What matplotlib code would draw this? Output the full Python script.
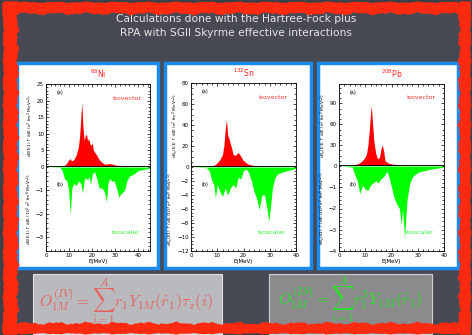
import numpy as np
import matplotlib
matplotlib.use("Agg")
import matplotlib.pyplot as plt
from matplotlib.patches import Rectangle, Polygon

plt.rcParams['mathtext.fontset'] = 'dejavusans'

## data
# 68Ni
ni_e_up = [0, 5, 7, 8, 9, 10, 10.5, 11, 12, 13, 14, 14.5, 15, 15.5, 16, 16.5, 17, 17.5, 18, 18.5,
           19, 19.5, 20, 20.5, 21, 22, 23, 24, 25, 26, 27, 28, 30, 33, 36, 40, 45]
ni_v_up = [0, 0.05, 0.2, 0.5, 1.2, 2.3, 2.5, 1.8, 2.2, 3.5, 6, 9, 14, 19.3, 12, 8, 9.5, 9.8, 8, 8.5,
           7, 6.5, 7.3, 5, 4.5, 3.5, 2.2, 1.5, 1.0, 0.8, 1.0, 1.0, 0.6, 0.4, 0.3, 0.2, 0.1]
ni_e_lo = [0, 6, 7, 8, 9, 9.8, 10.5, 11.2, 12, 13, 14, 15, 15.8, 16.5, 17, 18, 18.7, 19.3, 20, 21,
           22, 23, 24, 25, 25.6, 26.2, 26.8, 27.5, 28.5, 29.5, 30.5, 31.6, 32.3, 33, 34, 35, 36, 38, 40, 45]
ni_v_lo = [0, -0.02, -0.15, -0.5, -0.6, -1.0, -2.03, -0.9, -0.7, -0.8, -0.6, -0.7, -1.1, -0.6, -0.45, -0.55, -0.4, -0.75, -0.3, -0.2,
           -0.5, -0.9, -0.9, -1.0, -1.2, -1.49, -0.7, -0.5, -0.6, -0.6, -0.9, -1.3, -1.15, -1.1, -1.0, -0.6, -0.4, -0.3, -0.15, -0.05]

# 132Sn
sn_e_up = [0, 6, 8, 9, 10, 11, 12, 12.5, 13, 13.5, 14, 14.5, 15, 15.5, 16, 17, 17.5, 18, 18.5, 19,
           20, 21, 22, 24, 26, 30, 35, 40]
sn_v_up = [0, 0.2, 1, 2, 4, 7, 12, 20, 35, 45, 30, 27, 22, 18, 12, 11, 13, 13.5, 12, 10,
           6, 4, 2.5, 1.5, 1, 0.5, 0.3, 0.2]
sn_e_lo = [0, 6, 7, 8, 8.7, 9.3, 10, 11, 12, 13, 14, 15, 16, 17, 18, 19, 20, 21, 22, 23,
           24, 25, 26, 27, 28, 29, 29.6, 30.2, 31, 32, 33, 35, 37, 40]
sn_v_lo = [0, -0.1, -0.6, -2.0, -2.5, -4.4, -2.5, -3.5, -4.2, -3.0, -4.0, -3.0, -2.5, -3.0, -1.5, -1.7, -0.5, -0.3, -0.8, -2.0,
           -3.5, -4.5, -6.1, -4.0, -4.0, -6.0, -7.75, -6.0, -3.0, -1.5, -1.0, -0.7, -0.5, -0.2]

# 208Pb
pb_e_up = [0, 4, 6, 7, 8, 9, 10, 10.5, 11, 11.5, 12, 12.3, 12.8, 13.3, 14, 14.5, 15, 15.5, 16, 16.5,
           17, 17.5, 18, 19, 20, 22, 25, 30, 35, 40]
pb_v_up = [0, 0.3, 2, 3, 5, 8, 13, 18, 30, 50, 75, 87, 60, 35, 18, 12, 10, 14, 25, 30,
           22, 8, 6, 4, 3, 2, 1, 0.5, 0.3, 0.2]
pb_e_lo = [0, 5, 6, 7, 7.9, 9, 10, 11, 12, 13, 14, 14.9, 16, 17, 18.3, 19, 20, 21, 22, 23,
           23.7, 24.2, 25, 25.5, 26, 27, 28, 30, 33, 35, 40]
pb_v_lo = [0, -0.05, -0.4, -0.7, -1.3, -0.9, -1.1, -1.15, -0.9, -0.8, -0.7, -0.8, -0.6, -0.5, -0.25, -0.5, -1.0, -1.5, -1.8, -2.0,
           -2.75, -2.0, -3.4, -2.3, -1.5, -0.8, -0.5, -0.3, -0.2, -0.15, -0.05]

nuclei = [r"$^{68}$Ni", r"$^{132}$Sn", r"$^{208}$Pb"]
ylab_up = [r"dB(E1)$\uparrow$/dE (e$^2$ fm$^2$ MeV$^{-1}$)",
           r"dB$_v$(E1)$\uparrow$/dE (e$^2$ fm$^2$ MeV$^{-1}$)",
           r"dB$_v$(E1)$\uparrow$/dE (e$^2$ fm$^2$ MeV$^{-1}$)"]
ylab_lo = [r"dB(E1)$\uparrow$/dE (10$^2$ e$^2$ fm$^6$ MeV$^{-1}$)",
           r"dB$_s$(E1)$\uparrow$/dE (10$^3$ e$^2$ fm$^6$ MeV$^{-1}$)",
           r"dB$_s$(E1)$\uparrow$/dE (10$^4$ e$^2$ fm$^6$ MeV$^{-1}$)"]
xmax = [45, 40, 40]
ylim_up = [25, 80, 118]
ylim_lo = [-3.6, -12, -4]
yt_up = [[0, 5, 10, 15, 20, 25], [0, 20, 40, 60, 80], [0, 30, 60, 90]]
yt_lo = [[-1, -2, -3], [-2, -4, -6, -8, -10, -12], [-1, -2, -3, -4]]
spectra = [(ni_e_up, ni_v_up, ni_e_lo, ni_v_lo),
           (sn_e_up, sn_v_up, sn_e_lo, sn_v_lo),
           (pb_e_up, pb_v_up, pb_e_lo, pb_v_lo)]

title = "Calculations done with the Hartree-Fock plus\nRPA with SGII Skyrme effective interactions"

## layout in pixels (472 x 335)
W, H = 472, 335
panels = [(15, 159), (163, 312), (316, 459)]
axbox = [(46, 150, 84, 167, 251), (191, 296, 83, 167, 251), (339, 444, 84, 166, 251)]

fig = plt.figure(figsize=(W/100, H/100), dpi=100, facecolor="#3d4046")

bg = fig.add_axes([0, 0, 1, 1])
bg.set_xlim(0, W)
bg.set_ylim(H, 0)
bg.axis("off")
bg.add_patch(Rectangle((14, 10), 448, 316, color="#474a54", zorder=0))

bg.text(236, 25.5, title, ha="center", va="center", color="#e6e6e6", fontsize=7.7, linespacing=1.5)

# white panels with blue frame
for (x0, x1) in panels:
    bg.add_patch(Rectangle((x0+1.5, 62.5), x1-x0-3, 205, facecolor="white",
                           edgecolor="#1a8cf0", lw=2.5, zorder=1))

# formula boxes
bg.add_patch(Rectangle((33, 274), 189, 60, facecolor="#b9babe", edgecolor="#e0e0e0", lw=0.8, zorder=1))
bg.add_patch(Rectangle((269, 274), 163, 60, facecolor="#8b8b8d", edgecolor="#d0d0d0", lw=0.8, zorder=1))
bg.text(126, 301, r"$O_{1M}^{(IV)}=\sum_{i=1}^{A}r_1Y_{1M}(\hat{r}_1)\tau_z(i)$",
        ha="center", va="center", color="#e86060", fontsize=11.5, math_fontfamily="cm", zorder=2)
bg.text(350, 299, r"$O_{1M}^{(IS)}=\sum_{i=1}^{A}r_1^3Y_{1M}(\hat{r}_1)$",
        ha="center", va="center", color="#22e622", fontsize=11.5, math_fontfamily="cm", zorder=2)

# rough red chalk frame
n = 160
t = np.linspace(0, 1, n)
jit = 0.9*np.sin(t*97) + 0.6*np.sin(t*231 + 1) + 0.5*np.sin(t*413 + 2)
xs = np.linspace(3, 470, n)
ys = np.linspace(2, 334, n)
red = "#ff2a10"
bg.add_patch(Polygon(np.column_stack([np.r_[xs, xs[::-1]], np.r_[3 + 0.5*jit, (13 + jit)[::-1]]]), color=red, zorder=5))
bg.add_patch(Polygon(np.column_stack([np.r_[xs, xs[::-1]], np.r_[333 - 0.5*jit, (324 + jit)[::-1]]]), color=red, zorder=5))
bg.add_patch(Polygon(np.column_stack([np.r_[4 + 0.5*jit, (17 + jit)[::-1]], np.r_[ys, ys[::-1]]]), color=red, zorder=5))
bg.add_patch(Polygon(np.column_stack([np.r_[470 - 0.5*jit, (460 + jit)[::-1]], np.r_[ys, ys[::-1]]]), color=red, zorder=5))

def fbox(l, r, top, bot):
    return [l/W, (H-bot)/H, (r-l)/W, (bot-top)/H]

for k in range(3):
    l, r, top, zero, bot = axbox[k]
    eu, vu, el, vl = spectra[k]
    axu = fig.add_axes(fbox(l, r, top, zero))
    axl = fig.add_axes(fbox(l, r, zero, bot))

    axu.fill_between(eu, 0, vu, color="#ff0000", lw=0)
    axl.fill_between(el, 0, vl, color="#00ff00", lw=0)

    axu.set_xlim(0, xmax[k]); axl.set_xlim(0, xmax[k])
    axu.set_ylim(0, ylim_up[k]); axl.set_ylim(ylim_lo[k], 0)
    axu.set_yticks(yt_up[k]); axl.set_yticks(yt_lo[k])
    axl.set_xticks(range(0, xmax[k]+1, 10))
    axu.set_xticks(range(0, xmax[k]+1, 10))
    axu.tick_params(labelbottom=False)

    for ax in (axu, axl):
        ax.minorticks_on()
        ax.tick_params(which="both", direction="in", top=True, right=True, labelsize=4,
                       width=0.5, pad=1.5)
        ax.tick_params(which="major", length=2.5)
        ax.tick_params(which="minor", length=1.2)
        for s in ax.spines.values():
            s.set_linewidth(0.6)
    axu.spines["bottom"].set_visible(False)
    axl.spines["top"].set_visible(False)
    axu.tick_params(which="both", bottom=False)
    axl.tick_params(which="both", top=False)
    axu.axhline(0, color="black", lw=1.3, zorder=5)

    axu.set_ylabel(ylab_up[k], fontsize=3.2, labelpad=1.5)
    axl.set_ylabel(ylab_lo[k], fontsize=3.2, labelpad=1.5)
    axl.set_xlabel("E(MeV)", fontsize=4, labelpad=0.5)

    axu.text(0.1, 0.88, "(a)", transform=axu.transAxes, fontsize=3.5)
    axl.text(0.1, 0.77, "(b)", transform=axl.transAxes, fontsize=3.5)
    axu.text(0.92, 0.83, "isovector", transform=axu.transAxes, fontsize=4.5,
             color="#ff3030", ha="right", va="center")
    axl.text(0.9, 0.22, "isoscalar", transform=axl.transAxes, fontsize=4.5,
             color="#30ee30", ha="right", va="center")
    axu.set_title(nuclei[k], color="#ff2020", fontsize=5.5, pad=4)

fig.savefig("out.png", dpi=100, facecolor=fig.get_facecolor())
